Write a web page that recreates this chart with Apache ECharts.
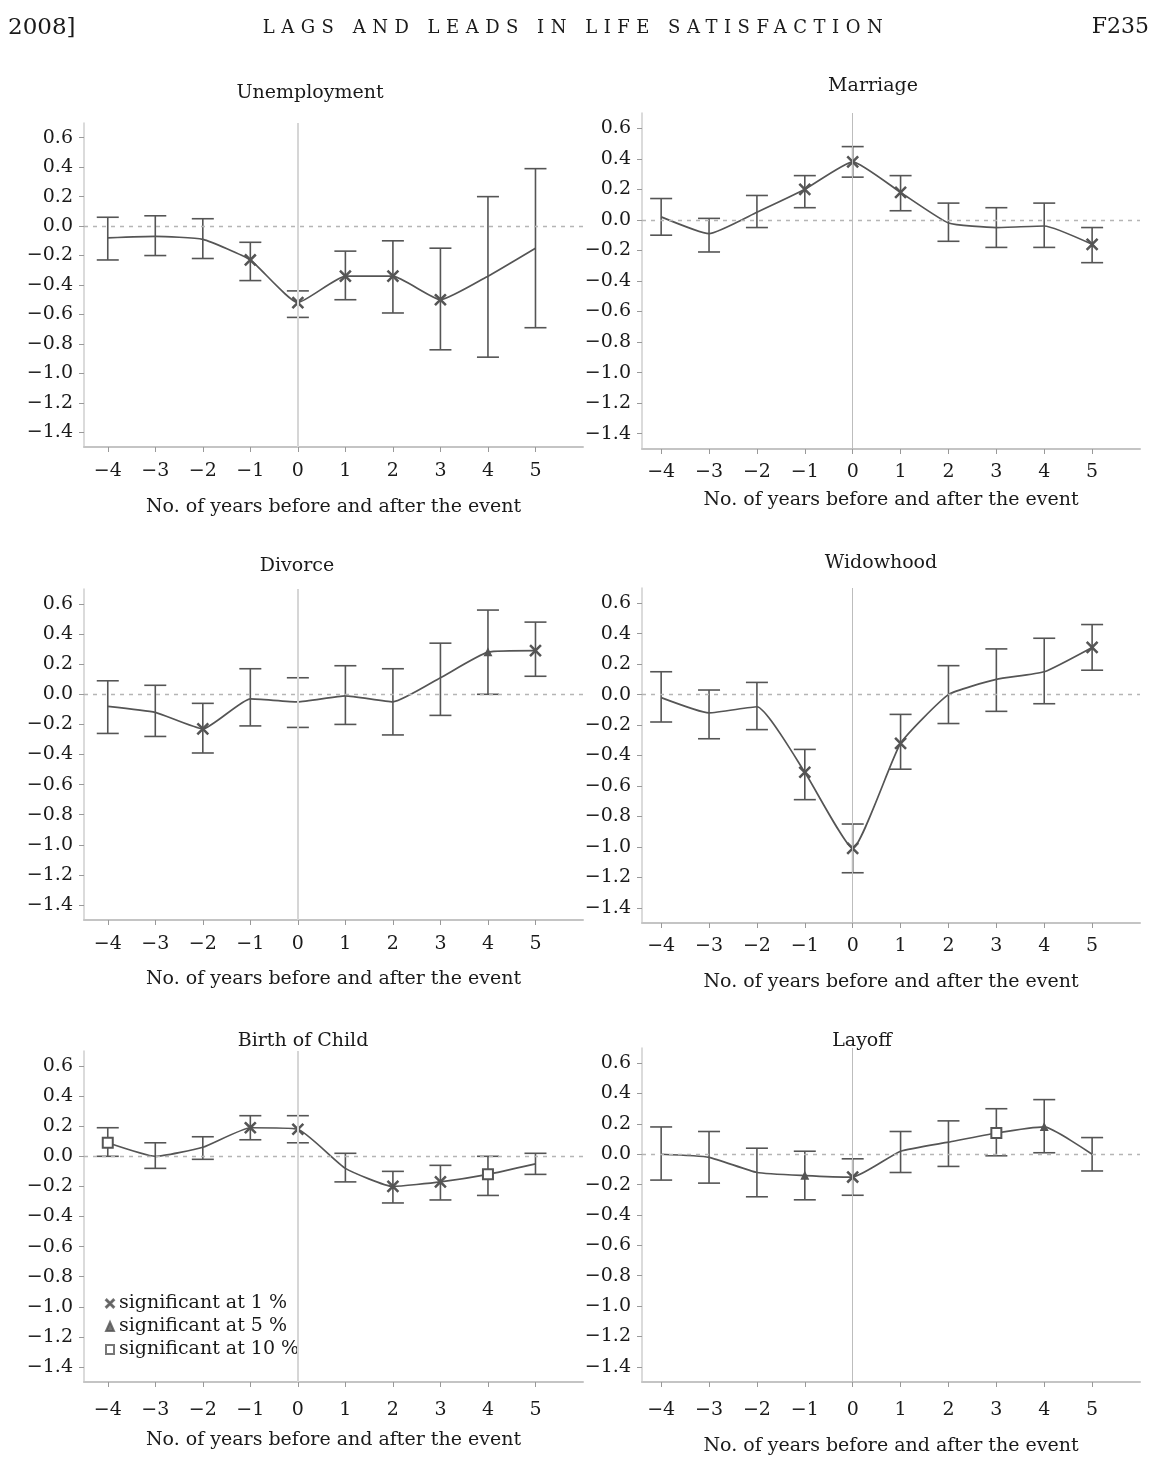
<!DOCTYPE html>
<html>
<head>
<meta charset="utf-8">
<title>Lags and leads in life satisfaction</title>
<script src="https://cdn.jsdelivr.net/npm/echarts@6/dist/echarts.min.js"></script>
<style>
  html, body { margin: 0; padding: 0; background: #fff; }
  #page { position: relative; width: 1152px; height: 1457px; }
  #charts { position: absolute; left: 0; top: 0; width: 1152px; height: 1457px; }
  .head { position: absolute; top: 13px; font-family: "DejaVu Serif", serif; color: #1a1a1a; }
  #h-year { left: 8px; font-size: 23px; }
  #h-title { left: 0; width: 1152px; text-align: center; font-size: 18px; letter-spacing: 6.5px; top: 16px; }
  #h-page { right: 3px; font-size: 22px; }
</style>
</head>
<body>
<div id="page">
  <div id="charts"></div>
  <div class="head" id="h-year">2008]</div>
  <div class="head" id="h-title">LAGS AND LEADS IN LIFE SATISFACTION</div>
  <div class="head" id="h-page">F235</div>
</div>
<script>
// years relative to the event, and y tick labels
var years = [-4, -3, -2, -1, 0, 1, 2, 3, 4, 5]
var yTicks = [-1.4, -1.2, -1.0, -0.8, -0.6, -0.4, -0.2, 0, 0.2, 0.4, 0.6]

// point estimates, upper / lower bounds, significance (x = 1%, t = 5%, s = 10%)
var unempEst = [-0.08, -0.07, -0.09, -0.23, -0.52, -0.34, -0.34, -0.50, -0.34, -0.15]
var unempHi = [0.06, 0.07, 0.05, -0.11, -0.44, -0.17, -0.10, -0.15, 0.20, 0.39]
var unempLo = [-0.23, -0.20, -0.22, -0.37, -0.62, -0.50, -0.59, -0.84, -0.89, -0.69]
var unempSig = ['', '', '', 'x', 'x', 'x', 'x', 'x', '', '']

var marrEst = [0.02, -0.09, 0.05, 0.20, 0.38, 0.18, -0.02, -0.05, -0.04, -0.16]
var marrHi = [0.14, 0.01, 0.16, 0.29, 0.48, 0.29, 0.11, 0.08, 0.11, -0.05]
var marrLo = [-0.10, -0.21, -0.05, 0.08, 0.28, 0.06, -0.14, -0.18, -0.18, -0.28]
var marrSig = ['', '', '', 'x', 'x', 'x', '', '', '', 'x']

var divEst = [-0.08, -0.12, -0.23, -0.03, -0.05, -0.01, -0.05, 0.11, 0.28, 0.29]
var divHi = [0.09, 0.06, -0.06, 0.17, 0.11, 0.19, 0.17, 0.34, 0.56, 0.48]
var divLo = [-0.26, -0.28, -0.39, -0.21, -0.22, -0.20, -0.27, -0.14, 0.00, 0.12]
var divSig = ['', '', 'x', '', '', '', '', '', 't', 'x']

var widEst = [-0.02, -0.12, -0.08, -0.51, -1.01, -0.32, 0.00, 0.10, 0.15, 0.31]
var widHi = [0.15, 0.03, 0.08, -0.36, -0.85, -0.13, 0.19, 0.30, 0.37, 0.46]
var widLo = [-0.18, -0.29, -0.23, -0.69, -1.17, -0.49, -0.19, -0.11, -0.06, 0.16]
var widSig = ['', '', '', 'x', 'x', 'x', '', '', '', 'x']

var birthEst = [0.09, 0.00, 0.06, 0.19, 0.18, -0.08, -0.20, -0.17, -0.12, -0.05]
var birthHi = [0.19, 0.09, 0.13, 0.27, 0.27, 0.02, -0.10, -0.06, 0.00, 0.02]
var birthLo = [0.00, -0.08, -0.02, 0.11, 0.09, -0.17, -0.31, -0.29, -0.26, -0.12]
var birthSig = ['s', '', '', 'x', 'x', '', 'x', 'x', 's', '']

var layEst = [0.00, -0.02, -0.12, -0.14, -0.15, 0.02, 0.08, 0.14, 0.18, 0.00]
var layHi = [0.18, 0.15, 0.04, 0.02, -0.03, 0.15, 0.22, 0.30, 0.36, 0.11]
var layLo = [-0.17, -0.19, -0.28, -0.30, -0.27, -0.12, -0.08, -0.01, 0.01, -0.11]
var laySig = ['', '', '', 't', 'x', '', '', 's', 't', '']

var legendNames = ['significant at 1 %', 'significant at 5 %', 'significant at 10 %']

var FONT = 'DejaVu Serif'
var INK = '#1a1a1a'
var MARK = '#555'
var X_SYMBOL = 'path://M0,0.85L0.85,0L5,4.15L9.15,0L10,0.85L5.85,5L10,9.15L9.15,10L5,5.85L0.85,10L0,9.15L4.15,5Z'

var panels = [
  { title: 'Unemployment', est: unempEst, hi: unempHi, lo: unempLo, sig: unempSig,
    grid: { left: 84, top: 123, width: 499, height: 324 }, xMin: -4.5, tx: 305, ty: 79, gap: 51, lm: 15, vw: 2, vc: '#d6d6d6' },
  { title: 'Marriage', est: marrEst, hi: marrHi, lo: marrLo, sig: marrSig,
    grid: { left: 642, top: 113, width: 498, height: 336 }, xMin: -4.4, tx: 868, ty: 72, gap: 42, lm: 14, vw: 1, vc: '#bdbdbd' },
  { title: 'Divorce', est: divEst, hi: divHi, lo: divLo, sig: divSig,
    grid: { left: 84, top: 589, width: 499, height: 331 }, xMin: -4.5, tx: 292, ty: 552, gap: 50, lm: 15, vw: 2, vc: '#d6d6d6' },
  { title: 'Widowhood', est: widEst, hi: widHi, lo: widLo, sig: widSig,
    grid: { left: 642, top: 588, width: 498, height: 335 }, xMin: -4.4, tx: 876, ty: 549, gap: 50, lm: 14, vw: 1, vc: '#bdbdbd' },
  { title: 'Birth of Child', est: birthEst, hi: birthHi, lo: birthLo, sig: birthSig,
    grid: { left: 84, top: 1051, width: 499, height: 331 }, xMin: -4.5, tx: 298, ty: 1027, gap: 49, lm: 19, vw: 2, vc: '#d6d6d6' },
  { title: 'Layoff', est: layEst, hi: layHi, lo: layLo, sig: laySig,
    grid: { left: 642, top: 1048, width: 498, height: 335 }, xMin: -4.4, tx: 857, ty: 1027, gap: 55, lm: 19, vw: 1, vc: '#bdbdbd' }
]

function fmtNum (v, digits) {
  var s = Math.abs(v).toFixed(digits)
  return (v < -1e-9 ? '\u2212' : '') + s
}

function symbolFor (s) {
  if (s === 'x') return { symbol: X_SYMBOL, symbolSize: 11 }
  if (s === 't') return { symbol: 'triangle', symbolSize: 7 }
  if (s === 's') return { symbol: 'emptyRect', symbolSize: 10 }
  return { symbol: 'none', symbolSize: 0 }
}

// error bar with caps, drawn through the axis scales
function renderBar (params, api) {
  var x = api.value(0)
  var top = api.coord([x, api.value(1)])
  var bot = api.coord([x, api.value(2)])
  var w = 11
  var style = { stroke: MARK, lineWidth: 1.6 }
  return {
    type: 'group',
    children: [
      { type: 'line', shape: { x1: top[0], y1: top[1], x2: bot[0], y2: bot[1] }, style: style },
      { type: 'line', shape: { x1: top[0] - w, y1: top[1], x2: top[0] + w, y2: top[1] }, style: style },
      { type: 'line', shape: { x1: bot[0] - w, y1: bot[1], x2: bot[0] + w, y2: bot[1] }, style: style }
    ]
  }
}

var grids = []
var xAxes = []
var yAxes = []
var titles = []
var series = []

panels.forEach(function (p, i) {
  grids.push(p.grid)
  titles.push({
    text: p.title, left: p.tx, top: p.ty, textAlign: 'center',
    textStyle: { fontFamily: FONT, fontSize: 19, fontWeight: 'normal', color: INK }
  })
  xAxes.push({
    gridIndex: i, type: 'value', min: p.xMin, max: 6,
    name: 'No. of years before and after the event', nameLocation: 'middle', nameGap: p.gap,
    nameTextStyle: { fontFamily: FONT, fontSize: 19, color: INK },
    axisLine: { onZero: false, lineStyle: { color: '#c4c4c4', width: 2 } },
    axisTick: { show: true, length: 5, customValues: years, lineStyle: { color: '#999' } },
    axisLabel: { customValues: years, margin: p.lm, fontFamily: FONT, fontSize: 19, color: INK,
      formatter: function (v) { return fmtNum(v, 0) } },
    splitLine: { show: false }
  })
  yAxes.push({
    gridIndex: i, type: 'value', min: -1.5, max: 0.7,
    axisLine: { show: true, onZero: false, lineStyle: { color: '#cfcfcf', width: 1.5 } },
    axisTick: { show: true, length: 5, customValues: yTicks, lineStyle: { color: '#999' } },
    axisLabel: { customValues: yTicks, margin: 11, fontFamily: FONT, fontSize: 19, color: INK,
      formatter: function (v) { return fmtNum(v, 1) } },
    splitLine: { show: false }
  })
  series.push({
    type: 'custom', xAxisIndex: i, yAxisIndex: i, renderItem: renderBar, silent: true, z: 3,
    data: years.map(function (yr, k) { return [yr, p.hi[k], p.lo[k]] })
  })
  series.push({
    type: 'line', xAxisIndex: i, yAxisIndex: i, smooth: 0.15, silent: true, z: 4,
    lineStyle: { color: MARK, width: 1.7 },
    itemStyle: { color: MARK, borderColor: MARK, borderWidth: 1.2 },
    data: years.map(function (yr, k) {
      var s = symbolFor(p.sig[k])
      return { value: [yr, p.est[k]], symbol: s.symbol, symbolSize: s.symbolSize }
    }),
    markLine: {
      silent: true, symbol: 'none', label: { show: false },
      lineStyle: { color: '#b5b5b5', type: [4, 5], width: 1.3 },
      data: [
        { yAxis: 0 },
        { xAxis: 0, lineStyle: { color: p.vc, type: 'solid', width: p.vw } }
      ]
    }
  })
})

// empty series that only feed the legend of the Birth of Child panel
var legendIcons = [X_SYMBOL, 'triangle', 'emptyRect']
legendNames.forEach(function (n, k) {
  series.push({
    name: n, type: 'scatter', xAxisIndex: 4, yAxisIndex: 4, data: [],
    symbol: legendIcons[k], itemStyle: { color: MARK, borderColor: MARK, borderWidth: 1 }
  })
})

var chart = echarts.init(document.getElementById('charts'), null, { renderer: 'canvas' })
chart.setOption({
  animation: false,
  backgroundColor: '#fff',
  title: titles,
  grid: grids,
  xAxis: xAxes,
  yAxis: yAxes,
  legend: {
    data: legendNames.map(function (n, k) { return { name: n, icon: legendIcons[k] } }),
    orient: 'vertical', left: 100, top: 1289, itemGap: 4, itemWidth: 8, itemHeight: 9,
    selectedMode: false,
    textStyle: { fontFamily: FONT, fontSize: 19, color: INK }
  },
  series: series
})
window.onresize = chart.resize
</script>
</body>
</html>
